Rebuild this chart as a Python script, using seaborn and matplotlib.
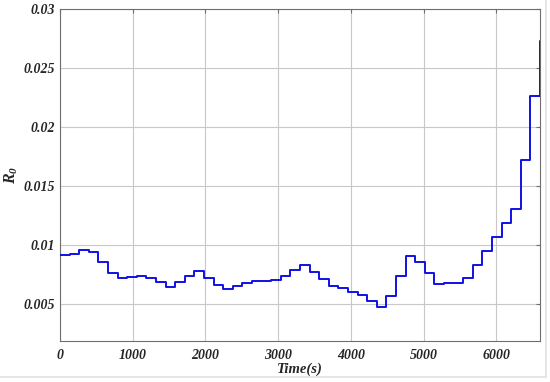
import matplotlib
matplotlib.use("Agg")
import matplotlib.pyplot as plt
import matplotlib.ticker as mtick
from matplotlib.lines import Line2D
import pandas as pd
import seaborn as sns

# step times (s) and R0 values
time_s = [0, 132, 264, 396, 528, 660, 792, 924, 1056, 1188,
          1320, 1452, 1584, 1716, 1848, 1980, 2112, 2244, 2376, 2508,
          2640, 2772, 2904, 3036, 3168, 3300, 3432, 3564, 3696, 3828,
          3960, 4092, 4224, 4356, 4488, 4620, 4752, 4884, 5016, 5148,
          5280, 5412, 5544, 5676, 5808, 5940, 6072, 6204, 6336, 6468,
          6600]
r0 = [0.00918, 0.00929, 0.00963, 0.00946, 0.00858, 0.00767, 0.00719, 0.00727, 0.00736, 0.00719,
      0.00685, 0.00648, 0.00688, 0.00739, 0.00778, 0.00722, 0.00662, 0.00631, 0.00653, 0.00679,
      0.00693, 0.00699, 0.00702, 0.00739, 0.00790, 0.00835, 0.00776, 0.00716, 0.00656, 0.00634,
      0.00605, 0.00574, 0.00523, 0.00474, 0.00568, 0.00739, 0.00912, 0.00855, 0.00761, 0.00673,
      0.00676, 0.00679, 0.00719, 0.00832, 0.00949, 0.01065, 0.01185, 0.01304, 0.01723, 0.02268,
      0.02734]
x_ticks = [0, 1000, 2000, 3000, 4000, 5000, 6000]
y_ticks = [0.005, 0.01, 0.015, 0.02, 0.025, 0.03]

sns.set_style("whitegrid")
plt.rcParams["font.family"] = ["Liberation Serif", "DejaVu Serif"]
plt.rcParams["mathtext.fontset"] = "custom"
plt.rcParams["mathtext.it"] = "Liberation Serif:italic:bold"
plt.rcParams["mathtext.rm"] = "Liberation Serif:italic:bold"

df = pd.DataFrame({"t": time_s, "r0": r0})

fig = plt.figure(figsize=(5.5, 3.82), dpi=100)
ax = fig.add_axes([0.109, 0.108, 0.873, 0.868])

sns.lineplot(data=df, x="t", y="r0", ax=ax, color="#1010e6",
             linewidth=1.4, drawstyle="steps-post", zorder=3)

ax.set_xlim(0, 6600)
ax.set_ylim(0.0019, 0.03)
ax.set_xticks(x_ticks)
ax.set_yticks(y_ticks)
ax.yaxis.set_major_formatter(mtick.FuncFormatter(lambda v, p: f"{v:g}"))

ax.grid(True, color="#c8c8c8", linewidth=0.8)
for s in ax.spines.values():
    s.set_color("#6e6e6e")
    s.set_linewidth(0.8)

ax.tick_params(direction="in", length=3, color="#6e6e6e", top=True, right=True,
               labelsize=10)
ax.tick_params(axis="x", pad=6)
for lab in ax.get_xticklabels() + ax.get_yticklabels():
    lab.set_fontweight("bold")
    lab.set_fontstyle("italic")

ax.set_xlabel("Time(s)", fontsize=10.5, fontweight="bold", fontstyle="italic", labelpad=0)
ax.set_ylabel("$R_0$", fontsize=11.5)
ax.yaxis.set_label_coords(-0.083, 0.5)

# faint frame on the right and bottom of the figure
fig.add_artist(Line2D([0, 0.992], [0.013, 0.013], transform=fig.transFigure,
                      color="#e2e2e2", linewidth=1.2))
fig.add_artist(Line2D([0.992, 0.992], [0.013, 1], transform=fig.transFigure,
                      color="#e2e2e2", linewidth=1.2))

fig.savefig("out.png", dpi=100)
